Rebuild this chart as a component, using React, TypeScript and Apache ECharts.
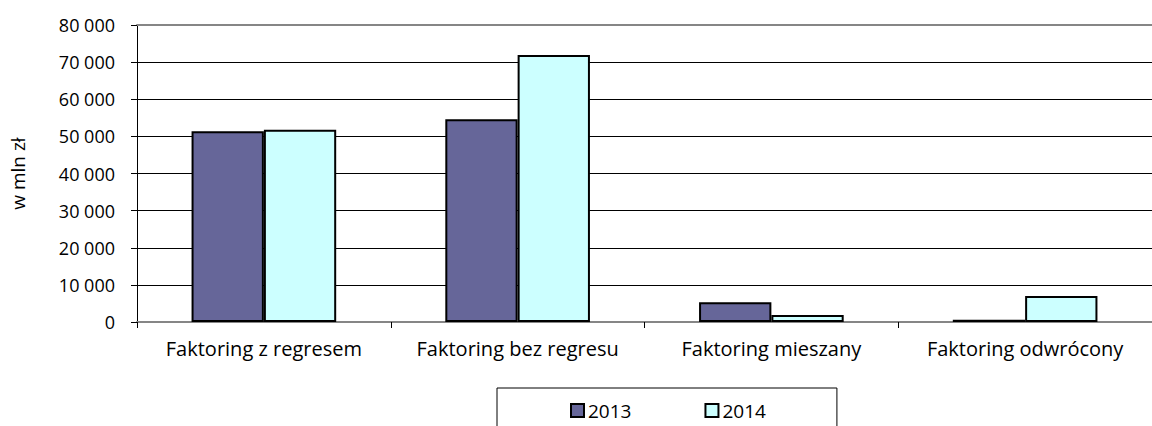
import React, { useEffect, useRef } from "react";
import * as echarts from "echarts";

const categories = [
  "Faktoring z regresem",
  "Faktoring bez regresu",
  "Faktoring mieszany",
  "Faktoring odwrócony",
];
const values2013 = [51400, 54600, 5300, 600];
const values2014 = [51800, 71900, 1900, 7000];
const seriesNames = ["2013", "2014"];
const yTicks = { min: 0, max: 80000, interval: 10000 };
const yAxisTitle = "w mln zł";

const FONT = "'Open Sans', 'DejaVu Sans', sans-serif";

const fmt = (v: number) => String(v).replace(/\B(?=(\d{3})+(?!\d))/g, " ");

export default function App() {
  const ref = useRef<HTMLDivElement>(null);
  useEffect(() => {
    if (!ref.current) return;
    const chart = echarts.init(ref.current, null, { renderer: "svg" });
    chart.setOption({
      animation: false,
      backgroundColor: "#ffffff",
      textStyle: { fontFamily: FONT, color: "#000" },
      grid: { left: 133, width: 1031, top: 25, bottom: 104, containLabel: false },
      legend: {
        data: seriesNames,
        left: 497,
        top: 388,
        padding: [13, 71, 30, 73],
        borderColor: "#000",
        borderWidth: 1,
        itemGap: 73,
        itemWidth: 13,
        itemHeight: 13,
        icon: "rect",
        textStyle: { fontFamily: FONT, fontSize: 19, color: "#000", padding: [0, 0, 0, -1] },
      },
      xAxis: [
        {
          type: "category",
          data: categories,
          position: "bottom",
          axisLine: { lineStyle: { color: "#868686", width: 2 } },
          axisTick: { show: true, length: 6, interval: 0, lineStyle: { color: "#000" } },
          axisLabel: {
            fontFamily: FONT,
            fontSize: 20,
            color: "#000",
            margin: 16,
            interval: 0,
            hideOverlap: false,
          },
        },
        {
          type: "category",
          data: categories,
          position: "top",
          axisLine: { lineStyle: { color: "#868686", width: 2 } },
          axisTick: { show: false },
          axisLabel: { show: false },
        },
      ],
      yAxis: {
        type: "value",
        min: yTicks.min,
        max: yTicks.max,
        interval: yTicks.interval,
        name: yAxisTitle,
        nameLocation: "middle",
        nameGap: 102,
        nameRotate: 90,
        nameTextStyle: { fontFamily: FONT, fontSize: 19, color: "#000", padding: [0, 0, 8, 0] },
        axisLine: { show: true, lineStyle: { color: "#000", width: 1 } },
        axisTick: { show: true, length: 6, lineStyle: { color: "#000" } },
        axisLabel: { fontFamily: FONT, fontSize: 18, color: "#000", margin: 22, formatter: fmt },
        splitLine: { show: true, lineStyle: { color: "#000", width: 1 } },
      },
      series: [
        {
          name: seriesNames[0],
          type: "bar",
          data: values2013,
          barGap: "0%",
          barCategoryGap: "43%",
          itemStyle: { color: "#666699", borderColor: "#000", borderWidth: 2 },
        },
        {
          name: seriesNames[1],
          type: "bar",
          data: values2014,
          itemStyle: { color: "#CCFFFF", borderColor: "#000", borderWidth: 2 },
        },
      ],
    });
    return () => chart.dispose();
  }, []);
  return (
    <div
      ref={ref}
      style={{ position: "absolute", left: 0, top: 0, width: 1152, height: 426 }}
    />
  );
}
